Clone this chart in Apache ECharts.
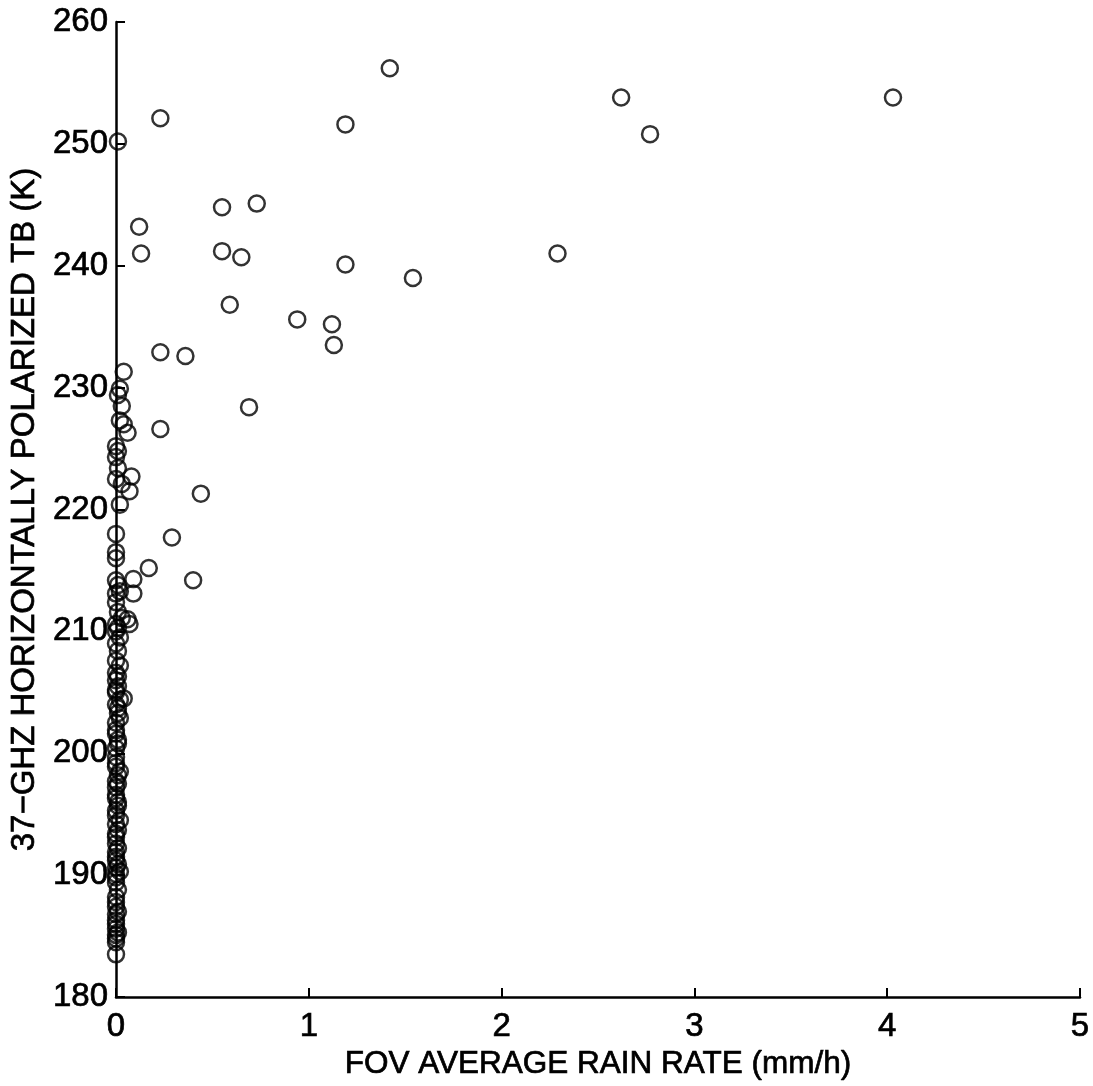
<!DOCTYPE html>
<html>
<head>
<meta charset="utf-8">
<title>37-GHz Tb vs FOV rain rate</title>
<script src="https://cdn.jsdelivr.net/npm/echarts@6/dist/echarts.min.js"></script>
<style>
  html, body { margin: 0; padding: 0; background: #ffffff; }
  #chart { width: 1093px; height: 1086px; }
</style>
</head>
<body>
<div id="chart"></div>
<script>
// FOV average rain rate (mm/h) for each footprint
const rainRate = [
  0.01, 0.02, 0.01, 0.03, 0.02, 0.04, 0.00, 0.01, 0.00, 0.01,
  0.00, 0.03, 0.02, 0.00, 0.00, 0.00, 0.00, 0.01, 0.00, 0.02,
  0.00, 0.01, 0.03, 0.00, 0.00, 0.02, 0.01, 0.00, 0.00, 0.00,
  0.01, 0.00, 0.02, 0.00, 0.01, 0.00, 0.00, 0.01, 0.00, 0.00,
  0.00, 0.01, 0.00, 0.00, 0.00, 0.01, 0.00, 0.00, 0.00, 0.01,
  0.00, 0.00, 0.00, 0.00, 0.00, 0.00, 0.00, 0.00, 0.00, 0.00,
  0.00, 0.00, 0.00, 0.00, 0.00,
  0.01, 0.00, 0.02, 0.01, 0.00, 0.01, 0.02, 0.00, 0.01, 0.00,
  0.02, 0.01, 0.00, 0.01, 0.02, 0.00, 0.01, 0.00, 0.01, 0.02,
  0.00, 0.01, 0.00, 0.01, 0.00, 0.01, 0.00,
  0.23, 1.42, 2.62, 4.03, 2.77, 1.19, 0.12, 0.13, 0.55, 0.73,
  0.55, 0.65, 1.19, 1.54, 2.29, 0.59, 0.94, 1.12, 1.13, 0.23,
  0.36, 0.23, 0.69, 0.06, 0.08, 0.07, 0.44, 0.29, 0.17, 0.09,
  0.40, 0.09, 0.04, 0.06, 0.07, 0.04
];

// 37-GHz horizontally polarized brightness temperature (K)
const brightnessTemp = [
  250.2, 229.9, 229.4, 228.5, 227.3, 227.0, 225.2, 224.8, 224.3, 223.4,
  222.5, 222.1, 220.4, 218.0, 216.5, 216.0, 214.2, 213.8, 213.1, 213.3,
  212.4, 211.6, 211.1, 210.6, 210.0, 209.5, 208.4, 207.6, 206.6, 206.0,
  205.5, 205.0, 204.4, 204.0, 203.3, 202.5, 201.6, 201.1, 200.4, 199.7,
  198.9, 198.2, 197.7, 197.2, 196.6, 196.0, 195.3, 194.9, 194.2, 193.7,
  193.1, 192.6, 191.9, 191.2, 190.6, 190.1, 189.4, 188.2, 187.4, 186.8,
  186.3, 185.6, 185.1, 184.5, 183.5,
  210.3, 209.0, 207.2, 206.3, 205.2, 203.7, 202.9, 201.9, 200.8, 199.2,
  198.5, 197.5, 196.3, 195.7, 194.5, 193.4, 192.2, 191.5, 190.9, 190.3,
  189.8, 188.8, 187.8, 187.0, 186.0, 185.3, 184.8,
  252.1, 256.2, 253.8, 253.8, 250.8, 251.6, 243.2, 241.0, 244.8, 245.1,
  241.2, 240.7, 240.1, 239.0, 241.0, 236.8, 235.6, 235.2, 233.5, 232.9,
  232.6, 226.6, 228.4, 226.3, 222.7, 221.5, 221.3, 217.7, 215.2, 214.3,
  214.2, 213.1, 231.3, 211.0, 210.6, 204.5
];

const xTicks = [0, 1, 2, 3, 4, 5];
const yTicks = [180, 190, 200, 210, 220, 230, 240, 250, 260];

const points = rainRate.map((r, i) => [r, brightnessTemp[i]]);

const FONT = '"Liberation Sans", Arial, Helvetica, sans-serif';
// a thin outline on the glyphs gives the heavier print look
const heavy = { textBorderColor: '#000', textBorderWidth: 0.7 };
const chart = echarts.init(document.getElementById('chart'), null, { renderer: 'canvas' });

chart.setOption({
  backgroundColor: '#ffffff',
  animation: false,
  grid: { left: 113, right: 13, top: 22, bottom: 89, containLabel: false },
  xAxis: {
    type: 'value',
    min: xTicks[0],
    max: xTicks[xTicks.length - 1],
    interval: 1,
    name: 'FOV AVERAGE RAIN RATE (mm/h)',
    nameLocation: 'middle',
    nameGap: 45,
    nameTextStyle: Object.assign({ color: '#000', fontFamily: FONT, fontSize: 31.5 }, heavy),
    axisLine: { show: true, lineStyle: { color: '#000', width: 2.5 } },
    axisTick: { show: true, inside: true, length: 9, lineStyle: { color: '#000', width: 2 } },
    axisLabel: Object.assign({ color: '#000', fontFamily: FONT, fontSize: 33, margin: 13 }, heavy),
    splitLine: { show: false }
  },
  yAxis: {
    type: 'value',
    min: yTicks[0],
    max: yTicks[yTicks.length - 1],
    interval: 10,
    name: '37\u2212GHZ HORIZONTALLY POLARIZED TB (K)',
    nameLocation: 'middle',
    nameGap: 67,
    nameTextStyle: Object.assign({ color: '#000', fontFamily: FONT, fontSize: 33 }, heavy),
    axisLine: { show: true, lineStyle: { color: '#000', width: 2.5 } },
    axisTick: { show: true, inside: true, length: 9, lineStyle: { color: '#000', width: 2 } },
    axisLabel: Object.assign({ color: '#000', fontFamily: FONT, fontSize: 33, margin: 8 }, heavy),
    splitLine: { show: false }
  },
  series: [{
    type: 'scatter',
    data: points,
    symbol: 'circle',
    symbolSize: 16,
    clip: false,
    itemStyle: { color: 'rgba(255,255,255,0)', borderColor: '#000', borderWidth: 2.5 }
  }]
});
</script>
</body>
</html>
